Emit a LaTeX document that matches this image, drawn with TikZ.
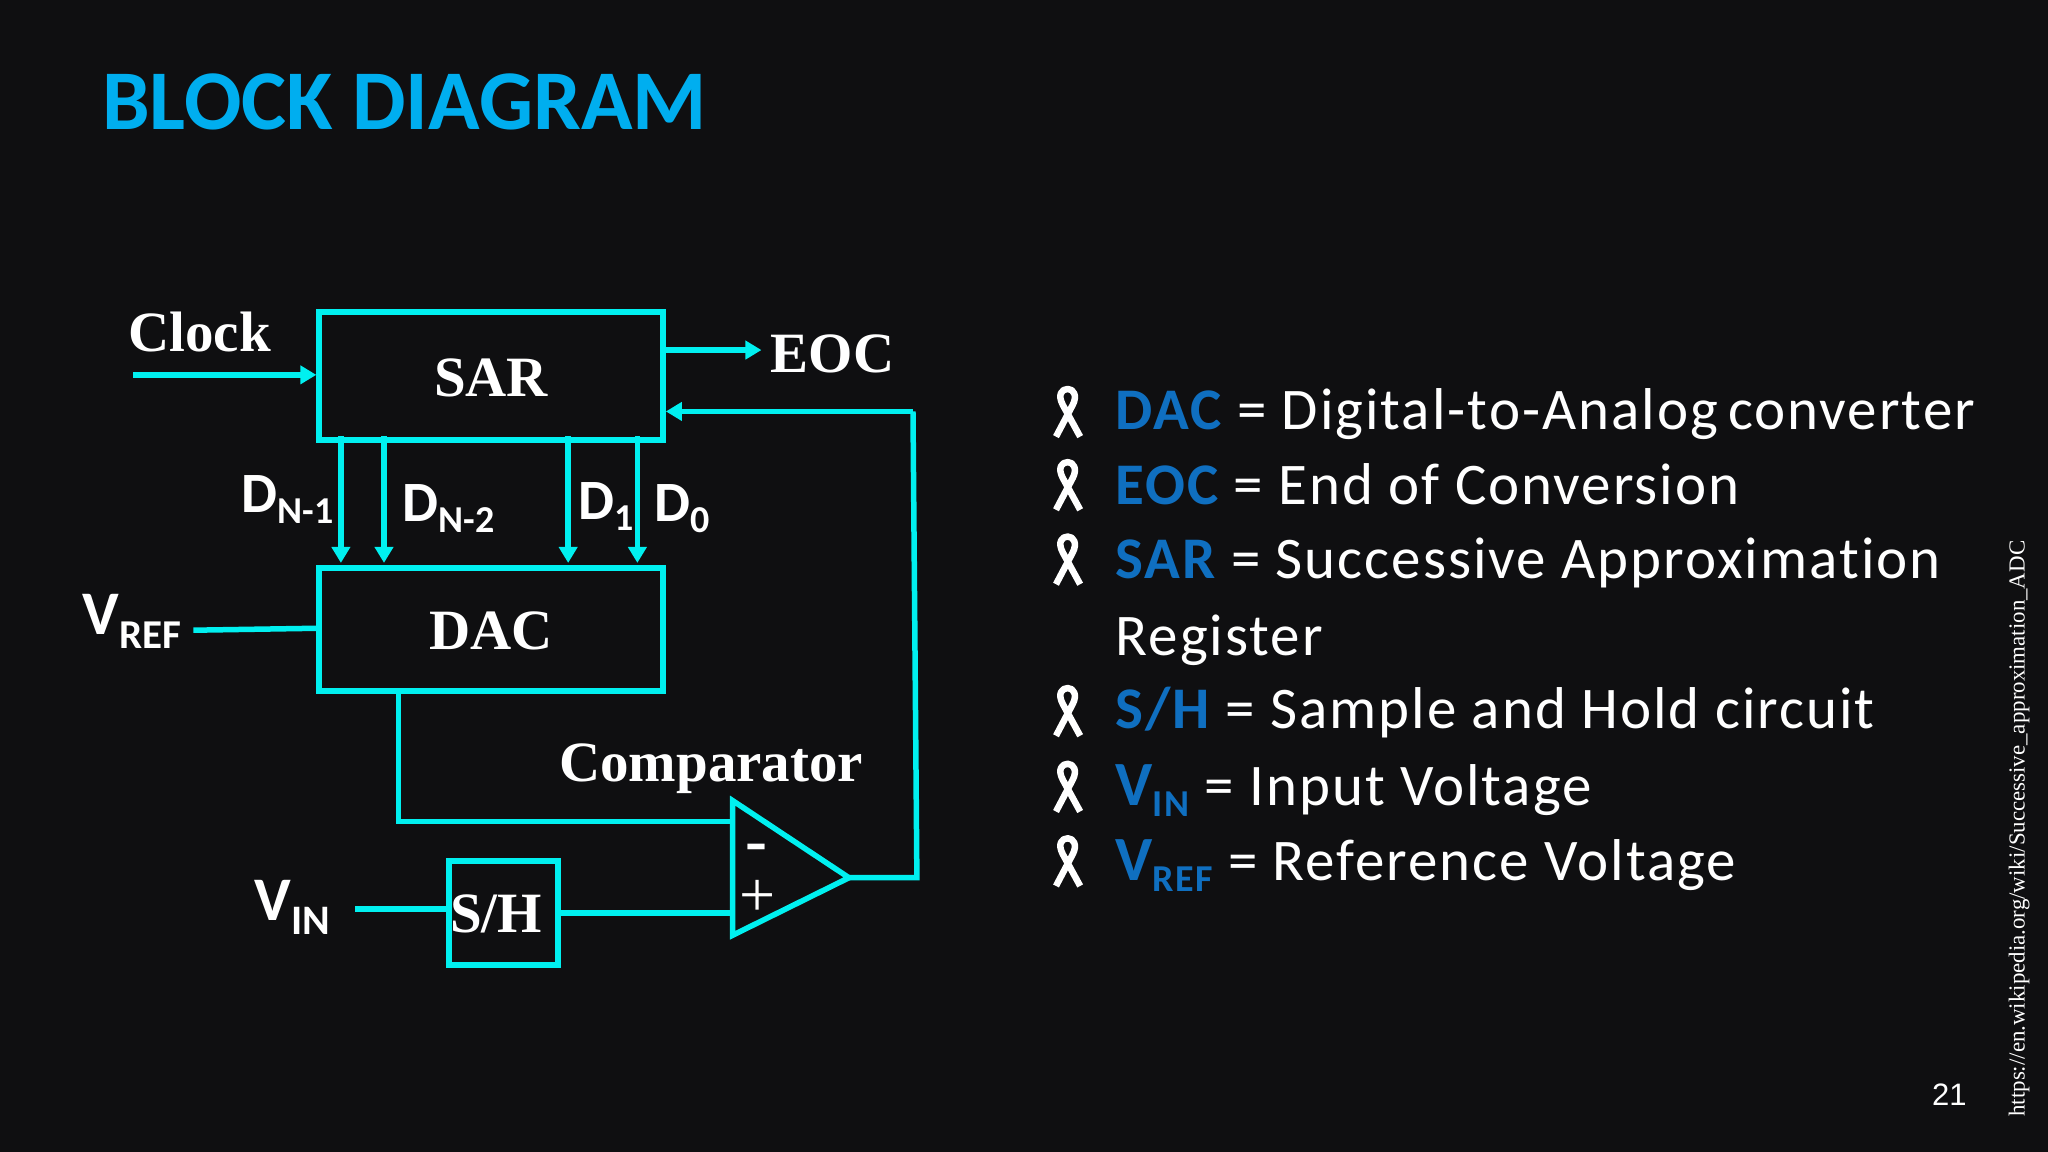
\documentclass[tikz,border=0pt]{standalone}
\usepackage{fontspec}
\setmainfont{Carlito}
\newfontfamily\listf[LetterSpace=3.4,Ligatures=NoCommon]{Carlito}
\newfontfamily\timesf{Liberation Serif}
\newfontfamily\arialf{Liberation Sans}
\usetikzlibrary{arrows.meta,calc}
\definecolor{bgc}{HTML}{0F0F11}
\definecolor{wire}{HTML}{00F0F0}
\definecolor{titleblue}{HTML}{00AEEF}
\definecolor{termblue}{HTML}{0F6FC0}
\newcommand{\fs}[1]{\fontsize{#1pt}{#1pt}\selectfont}
\newcommand{\subs}[3]{{\fs{#1}\raisebox{#2pt}{#3}}}
\newcommand{\term}[1]{\textcolor{termblue}{\bfseries #1}}
\newcommand{\boxtext}[1]{\raisebox{-20pt}[0pt][0pt]{#1}}
\newcommand{\ribbonat}[1]{%
  \begin{scope}[shift={(806,#1)}]
    \draw[white,line width=6.5pt,line cap=butt,line join=round]
      (2.5,38.3) -- (15.3,14) .. controls (19,7) and (16,1.8) .. (11.5,1.8)
      .. controls (7,1.8) and (3.5,6) .. (7.7,14) -- (21,38.3);
  \end{scope}}
\tikzset{
  wireline/.style={draw=wire,line width=5.5pt,line join=miter},
  blockbox/.style={wireline,fill=none,inner sep=0pt,text=white,font=\timesf\bfseries\fs{57}},
  arrowed/.style={wireline,-{Triangle[length=16pt,width=18pt]}},
  serif/.style={text=white,inner sep=0pt,anchor=base west,font=\timesf\bfseries\fs{57}},
  siglabel/.style={text=white,inner sep=0pt,anchor=base west,font=\bfseries\fs{57}},
  listtext/.style={text=white,inner sep=0pt,anchor=base west,font=\listf\fs{59}},
}
\begin{document}
\begin{tikzpicture}[x=1.30612pt,y=-1.30612pt]
\useasboundingbox (0,0) rectangle (1568,881.6);
\fill[bgc] (-5,-5) rectangle (1575,890);
% title
\node[inner sep=0pt,anchor=base west,text=titleblue,font=\bfseries\fs{85}] (title) at (78,99) {BLOCK DIAGRAM};
% blocks
\node[blockbox,minimum width=344pt,minimum height=128pt] (sar) at (376,288) {\boxtext{SAR}};
\node[blockbox,minimum width=344pt,minimum height=123pt] (dac) at (376,482) {\boxtext{DAC}};
\node[blockbox,minimum width=109pt,minimum height=104pt] (sh) at (385.5,699) {\kern-15pt\boxtext{S/H}};
% comparator
\coordinate (ct) at (561,613);
\coordinate (cb) at (561,716);
\coordinate (co) at (650,672);
\draw[wireline] (ct) -- (co) -- (cb) -- cycle;
\node[serif] (comp) at (428,598) {Comparator};
\node[text=white,inner sep=0pt,anchor=base,text height=18pt,font=\timesf\bfseries\fs{66}] (minus) at (579,660) {-};
\node[text=white,inner sep=0pt,anchor=base,text height=30pt,text depth=0pt,font=\timesf\fs{64}] (plus) at (580,702) {+};
% text labels
\node[serif] (clock) at (98,269) {Clock};
\node[serif] (eoc) at (590,285) {EOC};
\node[siglabel] (dn1) at (185,392) {D\subs{38}{-11}{N-1}};
\node[siglabel] (dn2) at (308,399) {D\subs{38}{-11}{N-2}};
\node[siglabel] (d1) at (443,398) {D\subs{38}{-11}{1}};
\node[siglabel] (d0) at (501,399) {D\subs{38}{-11}{0}};
\node[siglabel,font=\bfseries\fs{62}] (vref) at (63,486) {V\subs{41}{-14}{REF}};
\node[siglabel,font=\bfseries\fs{62}] (vin) at (195,705) {V\subs{42}{-14}{IN}};
% connectors
\coordinate (clkin) at (102,287);
\draw[arrowed] (clkin) -- (sar.west |- clkin);
\coordinate (eocout) at (583,268);
\draw[arrowed] (sar.east |- eocout) -- (eocout);
\coordinate (fbtop) at (699,315);
\coordinate (fbbot) at (702,672);
\draw[wireline] (co) -- (fbbot) -- (fbtop);
\draw[arrowed] (fbtop) -- (sar.east |- fbtop);
\foreach \n/\x in {a/261,b/294,c/435,e/488}{
  \coordinate (s\n) at (\x,334);
  \coordinate (t\n) at (\x,431);
  \draw[arrowed] (s\n) -- (t\n);
}
\coordinate (vrefin) at (148,482.5);
\coordinate (vrefend) at (243,481);
\draw[wireline] (vrefin) -- (vrefend);
\coordinate (dacout) at (305,529);
\coordinate (dacelbow) at (305,629);
\coordinate (cminus) at (561,629);
\draw[wireline] (dacout) -- (dacelbow) -- (cminus);
\coordinate (vinin) at (272,696);
\draw[wireline] (vinin) -- (sh.west |- vinin);
\coordinate (cplus) at (561,699);
\draw[wireline] (sh.east |- cplus) -- (cplus);
% list
\foreach \y in {296,352,409,525,583,640}{\ribbonat{\y}}
\node[listtext] (l1) at (854,329) {\term{DAC} = Digital-to-Analog\kern-5pt\ converter};
\node[listtext] (l2) at (854,386) {\term{EOC} = End of Conversion};
\node[listtext] (l3) at (854,443) {\term{SAR} = Successive Approximation};
\node[listtext] (l3b) at (854,502) {Register};
\node[listtext] (l4) at (854,558) {\term{S/H} = Sample and Hold circuit};
\node[listtext] (l5) at (854,617) {\term{{\fs{63}V}\subs{38}{-11}{IN}} = Input Voltage};
\node[listtext] (l6) at (854,674) {\term{{\fs{63}V}\subs{38}{-11}{REF}} = Reference Voltage};
% footer
\node[text=white,inner sep=0pt,font=\arialf\fs{31}] (page) at (1492.5,838) {21};
\node[text=white,inner sep=0pt,rotate=90,anchor=base west,font=\timesf\fs{22.9}] (url) at (1550,855) {https://en.wikipedia.org/wiki/Successive\_approximation\_ADC};
\end{tikzpicture}
\end{document}
